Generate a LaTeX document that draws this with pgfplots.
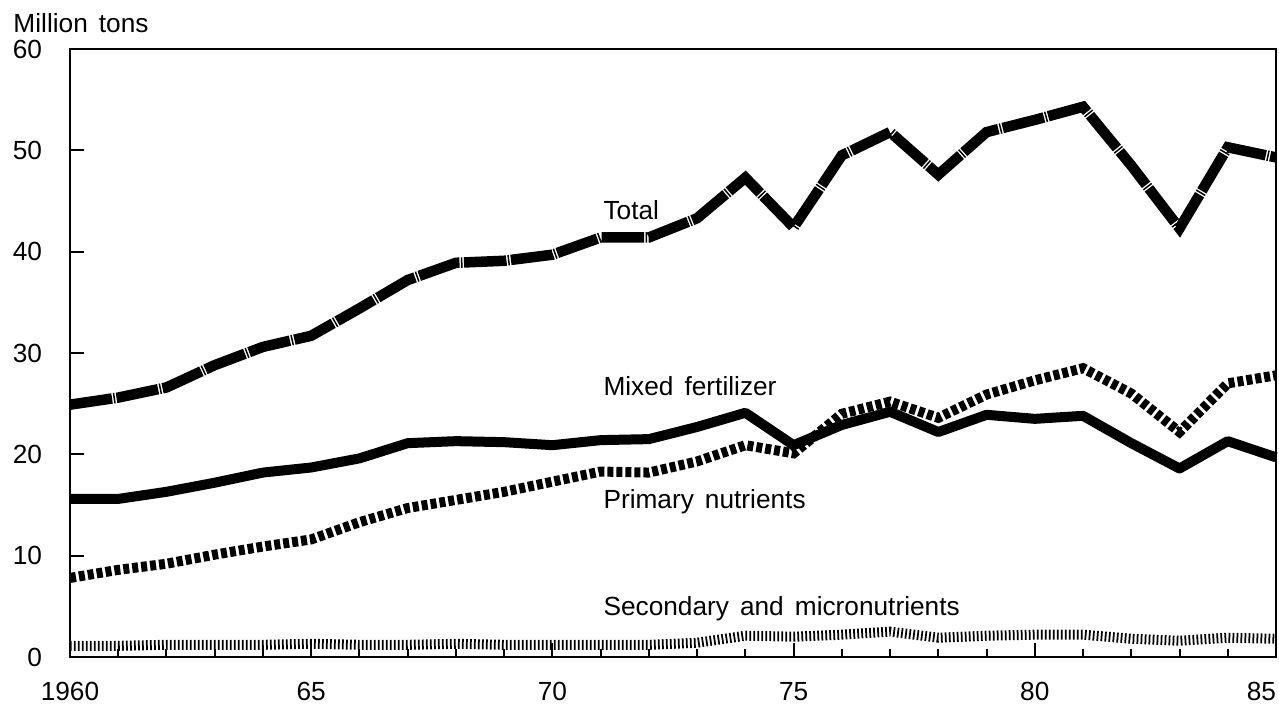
\documentclass[border=0pt]{standalone}
\usepackage{pgfplots}
\pgfplotsset{compat=1.18}
\usepackage{pgfplotstable}
\usepackage{fontspec}
\setmainfont{Liberation Sans}

% fertilizer use, million tons
\pgfplotstableread{
year total mixed primary second
1960 24.9 15.6 7.8 1.1
1961 25.6 15.6 8.6 1.1
1962 26.6 16.3 9.2 1.2
1963 28.8 17.2 10.1 1.2
1964 30.6 18.2 10.9 1.2
1965 31.7 18.7 11.6 1.3
1966 34.4 19.6 13.3 1.2
1967 37.2 21.1 14.7 1.2
1968 38.9 21.3 15.5 1.3
1969 39.1 21.2 16.3 1.2
1970 39.7 20.9 17.3 1.2
1971 41.4 21.4 18.3 1.2
1972 41.4 21.5 18.2 1.2
1973 43.3 22.7 19.3 1.4
1974 47.3 24.1 20.9 2.1
1975 42.4 20.9 20.1 2.0
1976 49.5 22.9 24.0 2.2
1977 51.8 24.2 25.2 2.5
1978 47.6 22.2 23.6 1.9
1979 51.8 23.9 25.9 2.1
1980 53.0 23.5 27.3 2.2
1981 54.3 23.8 28.5 2.2
1982 48.5 21.1 26.0 1.8
1983 42.3 18.6 22.2 1.6
1984 50.3 21.3 27.0 1.9
1985 49.3 19.7 27.8 1.8
}\fert

\newcommand{\wsp}{\ \hspace{1.5pt}}

\begin{document}
\fontsize{10.5}{12}\selectfont
\begin{tikzpicture}
\begin{axis}[
    scale only axis,
    width=482.4pt, height=243.2pt,
    xmin=1960, xmax=1985, ymin=0, ymax=60,
    xtick={1960,1965,...,1985},
    xticklabels={1960,65,70,75,80,\llap{85}},
    minor x tick num=4,
    ytick={0,10,...,60},
    tick pos=left, tick align=inside,
    major tick length=5.5pt, minor tick length=3pt,
    tick style={black, line width=0.8pt},
    axis line style={line width=1pt},
    /pgf/number format/assume math mode=true,
    yticklabel style={xshift=-7.5pt},
    xticklabel style={yshift=-6.5pt},
    every tick label/.append style={font=\fontsize{10.5}{12}\selectfont},
    clip=false,
]
\addplot[black, line width=4.2pt, dash pattern=on 17pt off 0.6pt on 0.6pt off 0.6pt]
    table[x=year, y=total] {\fert};
\addplot[black, line width=4pt, line join=round]
    table[x=year, y=mixed] {\fert};
\addplot[black, line width=4pt, dash pattern=on 2.4pt off 1.2pt]
    table[x=year, y=primary] {\fert};
\addplot[black, line width=4pt, dash pattern=on 0.7pt off 0.9pt]
    table[x=year, y=second] {\fert};

\node[anchor=base west, inner sep=0pt] at (axis cs:1971.05,43.2) {Total};
\node[anchor=base west, inner sep=0pt] at (axis cs:1971.05,25.8) {Mixed\wsp fertilizer};
\node[anchor=base west, inner sep=0pt] at (axis cs:1971.05,14.7) {Primary\wsp nutrients};
\node[anchor=base west, inner sep=0pt] at (axis cs:1971.05,4.05) {Secondary\wsp and\wsp micronutrients};
\node[anchor=base west, inner sep=0pt] at ([shift={(-22.8pt,6.4pt)}]rel axis cs:0,1) {Million\wsp tons};
\end{axis}
\pgfresetboundingbox
\path ([shift={(-28pt,-19.2pt)}]current axis.south west) rectangle ([shift={(1.2pt,19.6pt)}]current axis.north east);
\end{tikzpicture}
\end{document}
